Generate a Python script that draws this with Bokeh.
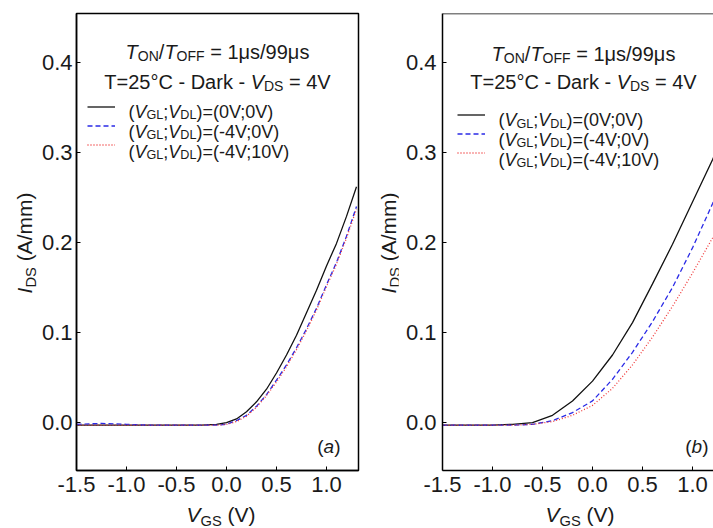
import math
from bokeh.plotting import figure
from bokeh.models import (Label, Range1d, FixedTicker, PrintfTickFormatter, Legend,
                          LegendItem, Span, Div)
from bokeh.layouts import row, column
from bokeh.embed import file_html
from bokeh.resources import INLINE

# ---------------- data ----------------
vgs_a = [-1.5, -1.25, -1.0, -0.75, -0.5, -0.25, -0.1, 0.0, 0.1, 0.2, 0.3, 0.4, 0.5,
         0.6, 0.7, 0.8, 0.9, 1.0, 1.1, 1.2, 1.3]
ids_a_00 = [-0.003, -0.003, -0.003, -0.003, -0.003, -0.003, -0.002, 0.000, 0.004, 0.012,
            0.023, 0.037, 0.055, 0.075, 0.097, 0.122, 0.147, 0.174, 0.199, 0.229, 0.262]
ids_a_40 = [-0.002, -0.001, -0.002, -0.003, -0.003, -0.003, -0.003, -0.002, 0.002, 0.008,
            0.018, 0.031, 0.047, 0.064, 0.083, 0.104, 0.127, 0.153, 0.178, 0.207, 0.240]
ids_a_410 = [-0.003, -0.003, -0.003, -0.003, -0.003, -0.003, -0.003, -0.002, 0.001, 0.007,
             0.017, 0.030, 0.045, 0.062, 0.081, 0.102, 0.125, 0.151, 0.176, 0.205, 0.237]

vgs_b = [-1.5, -1.25, -1.0, -0.8, -0.6, -0.4, -0.2, 0.0, 0.2, 0.4, 0.6, 0.8, 1.0, 1.2, 1.3]
ids_b_00 = [-0.003, -0.003, -0.003, -0.002, 0.000, 0.008, 0.024, 0.046, 0.075, 0.111,
            0.154, 0.198, 0.245, 0.292, 0.316]
ids_b_40 = [-0.003, -0.003, -0.003, -0.003, -0.002, 0.002, 0.011, 0.024, 0.048, 0.078,
            0.112, 0.150, 0.194, 0.243, 0.268]
ids_b_410 = [-0.003, -0.003, -0.003, -0.003, -0.002, 0.001, 0.008, 0.019, 0.038, 0.064,
             0.095, 0.129, 0.166, 0.205, 0.225]

x_ticks = [-1.5, -1.0, -0.5, 0.0, 0.5, 1.0]
y_ticks = [0.0, 0.1, 0.2, 0.3, 0.4]

# ---------------- styling ----------------
FONT = "Liberation Sans"
TXT = "#1a1a1a"
C_BLACK = "#111111"
C_BLUE = "#2a2ae6"
C_RED = "#f03a3a"
Y0, Y1 = -0.0533, 0.4544
FIG_H = 502

WID = {" ": 278, "(": 333, ")": 333, "-": 333, ".": 278, "/": 278, ";": 278, "=": 584,
       "A": 667, "C": 722, "D": 722, "F": 611, "G": 778, "I": 278, "L": 556, "N": 722,
       "O": 778, "S": 667, "T": 611, "V": 667, "a": 556, "b": 556, "k": 500, "m": 833,
       "r": 333, "s": 500, "\u03bc": 576, "\u00b0": 400}


def text_width(s, size):
    return sum(WID.get(ch, 556) for ch in s) * size / 1000.0


def rich(p, x, y, segs, size, align="left", sub_ratio=0.7):
    items = []
    total = 0.0
    for t, st in segs:
        fs = size * sub_ratio if st == "sub" else size
        w = text_width(t, fs)
        items.append((t, st, fs, w))
        total += w
    off = 0.0 if align == "left" else (-total / 2 if align == "center" else -total)
    for t, st, fs, w in items:
        drop = 0.18 * size if st == "sub" else 0.0
        lead = len(t) - len(t.lstrip(" "))
        shown = t.strip(" ")
        xo = off + text_width(" " * lead, fs)
        p.add_layout(Label(x=x, y=y, x_offset=xo, y_offset=-drop, text=shown,
                           text_font=FONT, text_font_size=f"{fs:.1f}px",
                           text_font_style="italic" if st == "i" else "normal",
                           text_color=TXT, text_align="left",
                           text_baseline="alphabetic"))
        off += w


def make_fig(width, border_left, border_right, x_end, outline, ystandoff):
    p = figure(width=width, height=FIG_H, x_range=Range1d(-1.5, x_end),
               y_range=Range1d(Y0, Y1), output_backend="svg", toolbar_location=None,
               min_border_left=border_left, min_border_right=border_right,
               min_border_top=13, min_border_bottom=FIG_H - 13 - 457)
    p.grid.visible = False
    p.outline_line_color = "black" if outline else None
    p.outline_line_width = 1.5
    p.background_fill_color = "white"
    p.border_fill_color = "white"
    for ax in (p.xaxis[0], p.yaxis[0]):
        ax.axis_line_color = "black"
        ax.axis_line_width = 1.5
        ax.major_tick_in = 4
        ax.major_tick_out = 0
        ax.major_tick_line_color = "black"
        ax.minor_tick_line_color = None
        ax.major_label_text_font = FONT
        ax.major_label_text_font_size = "22px"
        ax.major_label_text_color = TXT
        ax.axis_label = None
    p.xaxis[0].ticker = FixedTicker(ticks=x_ticks)
    p.yaxis[0].ticker = FixedTicker(ticks=y_ticks)
    p.xaxis[0].formatter = PrintfTickFormatter(format="%.1f")
    p.yaxis[0].formatter = PrintfTickFormatter(format="%.1f")
    p.xaxis[0].major_label_standoff = 6
    p.yaxis[0].major_label_standoff = ystandoff
    return p


def add_panel(p, vgs, s00, s40, s410, cfg):
    r0 = p.line(vgs, s00, line_color=C_BLACK, line_width=1.3)
    r1 = p.line(vgs, s40, line_color=C_BLUE, line_width=1.3, line_dash="5 3")
    r2 = p.line(vgs, s410, line_color=C_RED, line_width=1.3, line_dash="1 2")
    leg = Legend(items=[LegendItem(label=" ", renderers=[r]) for r in (r0, r1, r2)],
                 location=cfg["leg_loc"], glyph_width=28, glyph_height=19,
                 label_height=19, label_width=1, label_standoff=0,
                 padding=0, margin=0, spacing=0, border_line_alpha=0,
                 background_fill_alpha=0, label_text_font_size="1px")
    p.add_layout(leg)

    cx = cfg["title_x"]
    rich(p, cx, cfg["t1_y"], [("T", "i"), ("ON", "sub"), ("/", "n"), ("T", "i"),
                              ("OFF", "sub"), (" = 1\u03bcs/99\u03bcs", "n")], 20, "center")
    rich(p, cx, cfg["t2_y"], [("T=25\u00b0C - Dark - ", "n"), ("V", "i"), ("DS", "sub"),
                              (" = 4V", "n")], 20, "center")
    labels = [("0V", "0V"), ("-4V", "0V"), ("-4V", "10V")]
    for (gl, dl), yy in zip(labels, cfg["leg_y"]):
        rich(p, cfg["leg_x"], yy, [("(", "n"), ("V", "i"), ("GL", "sub"), (";", "n"),
                                   ("V", "i"), ("DL", "sub"),
                                   (f")=({gl};{dl})", "n")], 18, "left")
    rich(p, cfg["tag_x"], cfg["tag_y"], [("(", "n"), (cfg["tag"], "i"), (")", "n")],
         19, "right")


SUB = 'font-size:14.7px;position:relative;top:4px;'
BASE = (f"font-family:'{FONT}',sans-serif;font-size:21px;color:{TXT};"
        "white-space:nowrap;")
YLAB = f'<i>I</i><span style="{SUB}">DS</span> (A/mm)'
XLAB = f'<i>V</i><span style="{SUB}">GS</span> (V)'


def ylabel_div(width, cx, cy):
    html = (f'<div style="position:relative;width:{width}px;height:{FIG_H}px;">'
            f'<div style="position:absolute;left:{cx - 80}px;top:{cy - 13}px;width:160px;'
            f'height:26px;line-height:26px;text-align:center;transform:rotate(-90deg);'
            f'{BASE}">{YLAB}</div></div>')
    return Div(text=html, width=width, height=FIG_H, margin=0)


def xlabel_div(centers):
    parts = "".join(
        f'<div style="position:absolute;left:{c - 100}px;top:0px;width:200px;height:26px;'
        f'line-height:26px;text-align:center;{BASE}">{XLAB}</div>' for c in centers)
    html = (f'<div style="position:relative;width:713px;height:{528 - FIG_H}px;">'
            f'{parts}</div>')
    return Div(text=html, width=713, height=528 - FIG_H, margin=0)


pa = make_fig(322, 38, 2, 1.32, True, 4)
add_panel(pa, vgs_a, ids_a_00, ids_a_40, ids_a_410, dict(
    leg_loc=(11, 316), title_x=-0.09, t1_y=0.4111, t2_y=0.3783,
    leg_x=-0.98, leg_y=[0.3448, 0.3226, 0.3003], tag="a", tag_x=1.14, tag_y=-0.0267))

pb = make_fig(315, 44, 0, 1.21, False, 6)
pb.add_layout(Span(location=Y1, dimension="width", line_color="black", line_width=1.5))
add_panel(pb, vgs_b, ids_b_00, ids_b_40, ids_b_410, dict(
    leg_loc=(15, 308), title_x=-0.09, t1_y=0.4089, t2_y=0.3778,
    leg_x=-0.94, leg_y=[0.3356, 0.3141, 0.2919], tag="b", tag_x=1.16, tag_y=-0.0267))

top = row(ylabel_div(38, 25, 243), pa, ylabel_div(38, 29, 243), pb)
layout = column(top, xlabel_div([221, 580]))
open("out.html", "w").write(file_html(layout, INLINE))
